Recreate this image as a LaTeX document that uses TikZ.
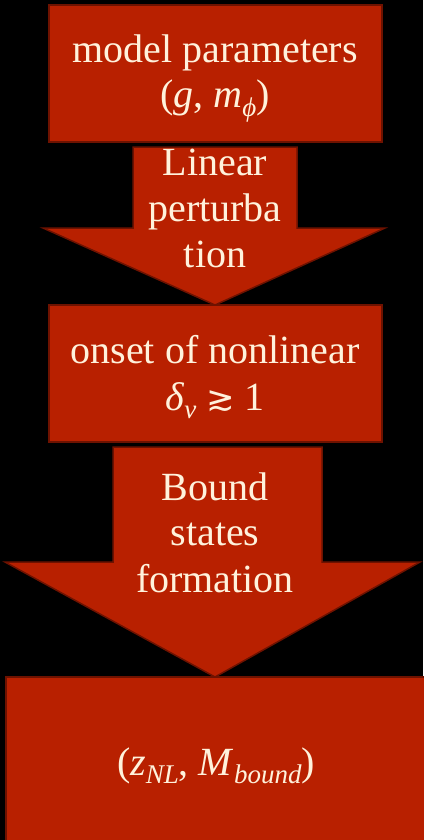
\documentclass[tikz,border=0pt]{standalone}
\usepackage{fontspec}
\setmainfont{Liberation Serif}
\newfontfamily\dvsans{DejaVu Sans}
\definecolor{boxred}{RGB}{184,32,0}
\definecolor{edgered}{RGB}{110,18,0}
\definecolor{cream}{RGB}{255,242,220}
\newcommand{\lowsub}[1]{\raisebox{-0.22em}{\fontsize{27}{27}\selectfont\itshape #1}}
\begin{document}
\begin{tikzpicture}[x=1pt,y=-1pt,
  blk/.style={fill=boxred,draw=edgered,line width=1.5pt},
  txt/.style={text=cream,anchor=base,inner sep=0pt,font=\fontsize{40}{46}\selectfont}]
\fill[black] (0,0) rectangle (423,840);
\useasboundingbox (0,0) rectangle (423,840);
% arrows first (boxes overlap tips)
\draw[blk] (133,147) -- (297,147) -- (297,228) -- (385,228) -- (215,305) -- (43,228) -- (133,228) -- cycle;
\draw[blk] (113,447) -- (322,447) -- (322,562) -- (420,562) -- (215,677) -- (5,562) -- (113,562) -- cycle;
% boxes
\draw[blk] (49,5) rectangle (382,142);
\draw[blk] (49,305) rectangle (382,442);
\draw[blk] (6,677) rectangle (430,850);
% texts
\node[txt] (t1a) at (215,63) {model parameters};
\node[txt] (t1b) at (215,108) {(\textit{g}, \textit{m}\lowsub{ϕ})};
\node[txt] (a1a) at (215,175) {Linear};
\node[txt] (a1b) at (215,221) {perturba};
\node[txt] (a1c) at (215,267) {tion};
\node[txt] (t2a) at (215,363) {onset of nonlinear};
\node[txt] (t2b) at (215,410) {\textit{δ}\lowsub{ν} {\dvsans\fontsize{34}{34}\selectfont ≳} 1};
\node[txt] (a2a) at (215,500) {Bound};
\node[txt] (a2b) at (215,545) {states};
\node[txt] (a2c) at (215,592) {formation};
\node[txt] (t3) at (216,775) {(\textit{z}\lowsub{NL}, \textit{M}\lowsub{bound})};
\end{tikzpicture}
\end{document}
